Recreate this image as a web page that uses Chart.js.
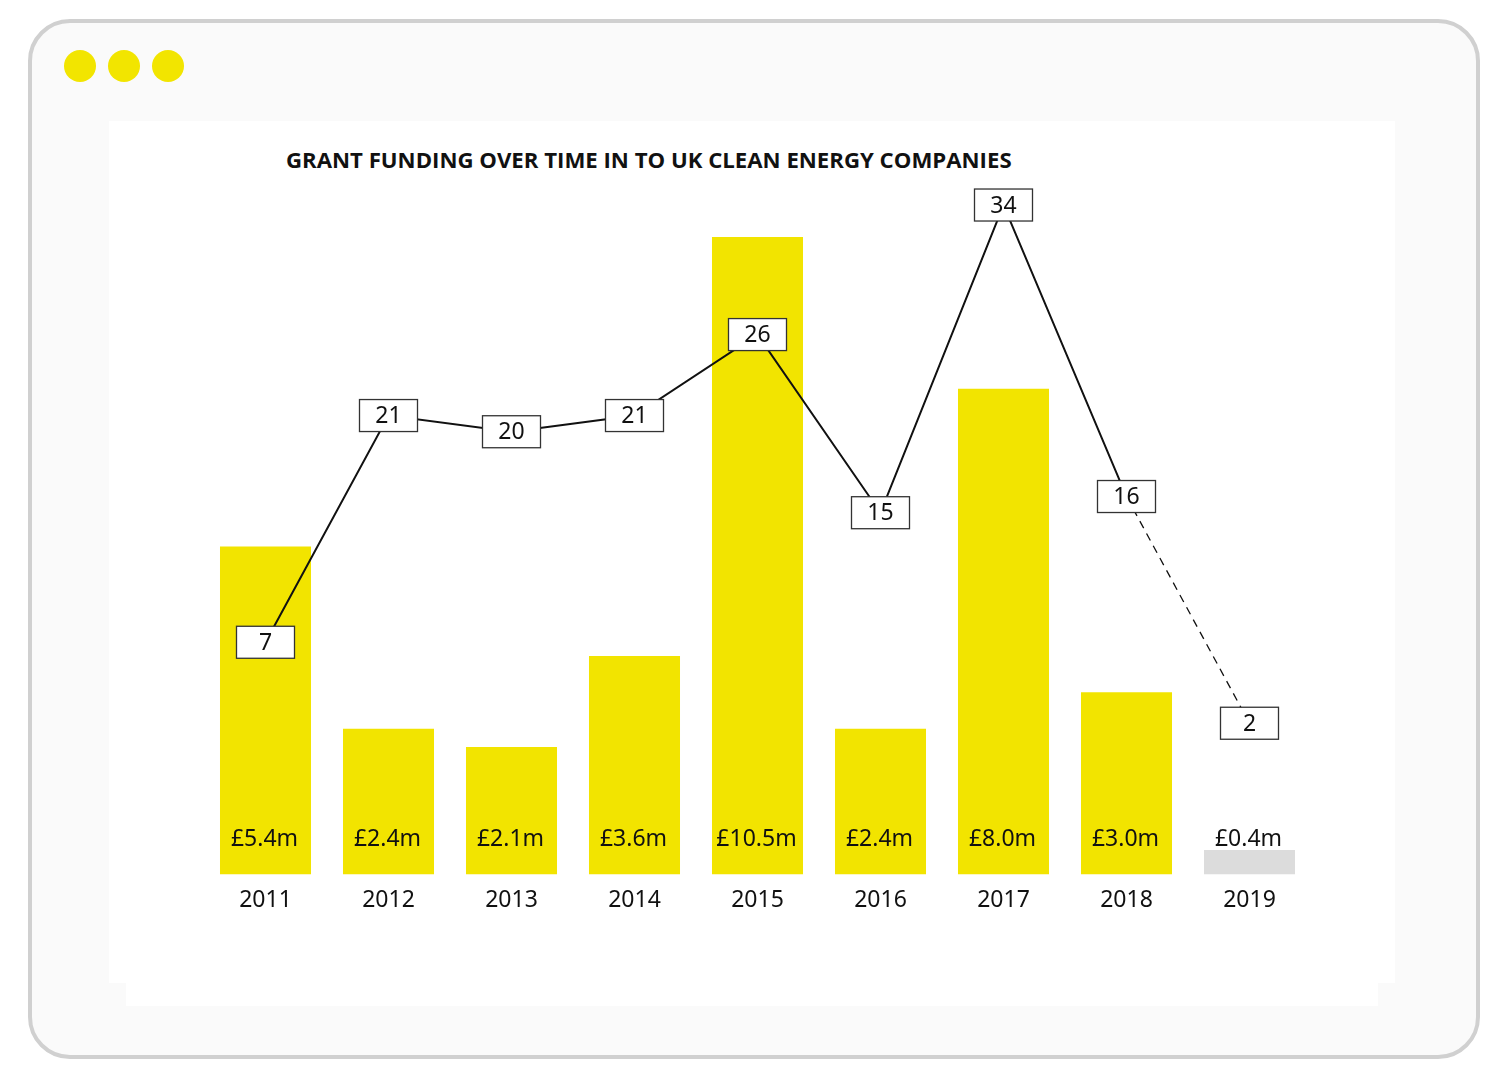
<!DOCTYPE html>
<html>
<head>
<meta charset="utf-8">
<script src="https://cdn.jsdelivr.net/npm/chart.js@4.4.1/dist/chart.umd.min.js"></script>
<style>
  body { margin: 0; background: #fff; width: 1500px; height: 1079px; position: relative; overflow: hidden; }
  .frame { position: absolute; left: 28px; top: 19px; width: 1452px; height: 1040px; box-sizing: border-box;
           border: 4px solid #d0d0d0; border-radius: 42px; background: #fafafa; }
  .dot { position: absolute; top: 50px; width: 32px; height: 32px; border-radius: 50%; background: #f2e500; }
  .panel { position: absolute; background: #fff; }
  h1 { position: absolute; left: 286px; top: 149px; margin: 0; font: bold 22.2px/22px "Open Sans", sans-serif;
       color: #111; white-space: nowrap; }
  #wrap { position: absolute; left: 109px; top: 121px; width: 1286px; height: 862px; }
</style>
</head>
<body>
<div class="frame"></div>
<div class="dot" style="left:64px"></div>
<div class="dot" style="left:108px"></div>
<div class="dot" style="left:152px"></div>
<div class="panel" style="left:126px;top:121px;width:1252px;height:885px"></div>
<div class="panel" style="left:109px;top:121px;width:1286px;height:862px"></div>
<h1>GRANT FUNDING OVER TIME IN TO UK CLEAN ENERGY COMPANIES</h1>
<div id="wrap"><canvas id="grantChart"></canvas></div>

<script>
// values
const years = ['2011', '2012', '2013', '2014', '2015', '2016', '2017', '2018', '2019'];
const funding = [5.4, 2.4, 2.1, 3.6, 10.5, 2.4, 8.0, 3.0, 0.4];   // £m
const companies = [7, 21, 20, 21, 26, 15, 34, 16, 2];

const fundingLabels = funding.map(v => '£' + v.toFixed(1) + 'm');
const lastIdx = years.length - 1;   // 2019 is partial: grey bar, dashed line

const TEXT = '#111';
const FONT = '"Noto Sans", sans-serif';

// value labels at the foot of each bar, boxed counts on the line
const labelPlugin = {
  id: 'labels',
  afterDatasetsDraw(chart) {
    const ctx = chart.ctx;
    const bars = chart.getDatasetMeta(0).data;
    const pts = chart.getDatasetMeta(1).data;
    const base = chart.chartArea.bottom;
    ctx.save();
    ctx.font = '23px ' + FONT;
    ctx.textAlign = 'center';
    ctx.textBaseline = 'middle';
    ctx.fillStyle = TEXT;
    bars.forEach((b, i) => ctx.fillText(fundingLabels[i], b.x - 1, base - 35));

    pts.forEach((p, i) => {
      const w = 58, h = 32;
      ctx.fillStyle = '#fff';
      ctx.fillRect(p.x - w / 2, p.y - h / 2, w, h);
      ctx.strokeStyle = '#333';
      ctx.lineWidth = 1.3;
      ctx.strokeRect(p.x - w / 2, p.y - h / 2, w, h);
      ctx.fillStyle = TEXT;
      ctx.fillText(String(companies[i]), p.x, p.y + 1);
    });
    ctx.restore();
  }
};

new Chart(document.getElementById('grantChart'), {
  data: {
    labels: years,
    datasets: [{
      type: 'bar',
      label: 'Grant funding',
      data: funding,
      yAxisID: 'y',
      order: 2,
      backgroundColor: ctx => ctx.dataIndex === lastIdx ? '#dcdcdc' : '#f2e400',
      categoryPercentage: 1,
      barPercentage: 0.74
    }, {
      type: 'line',
      label: 'Companies',
      data: companies,
      yAxisID: 'y1',
      order: 1,
      borderColor: '#111',
      borderWidth: 2,
      pointRadius: 0,
      tension: 0,
      segment: {
        borderDash: ctx => ctx.p0DataIndex === lastIdx - 1 ? [8, 6] : undefined,
        borderWidth: ctx => ctx.p0DataIndex === lastIdx - 1 ? 1.3 : undefined
      }
    }]
  },
  options: {
    responsive: true,
    maintainAspectRatio: false,
    animation: false,
    layout: { padding: { left: 95, right: 84, top: 59, bottom: 57 } },
    scales: {
      x: {
        grid: { display: false, drawTicks: false },
        border: { display: false },
        ticks: { color: TEXT, font: { family: FONT, size: 23 }, padding: 12 }
      },
      y: { display: false, min: 0, max: 11.44 },
      y1: { display: false, min: -7.334, max: 35.545 }
    },
    plugins: {
      legend: { display: false },
      tooltip: { enabled: false }
    }
  },
  plugins: [labelPlugin]
});
</script>
</body>
</html>
